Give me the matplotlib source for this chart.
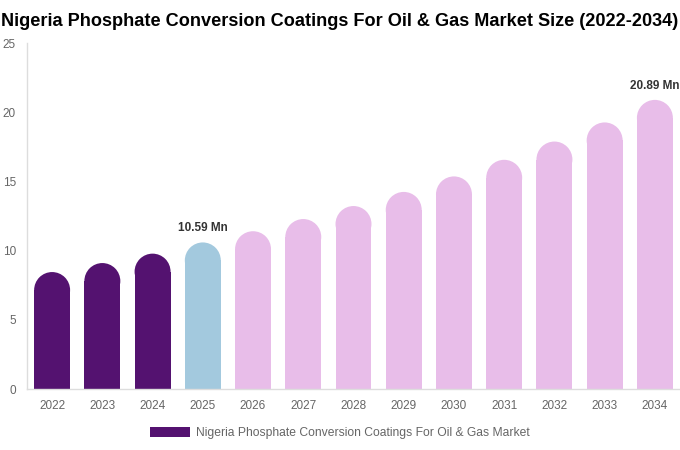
import matplotlib
matplotlib.use("Agg")
import matplotlib.pyplot as plt
from matplotlib.patches import Ellipse, Patch

years = ["2022", "2023", "2024", "2025", "2026", "2027", "2028",
         "2029", "2030", "2031", "2032", "2033", "2034"]
values = [8.45, 9.10, 9.78, 10.59, 11.40, 12.28, 13.22,
          14.24, 15.36, 16.56, 17.88, 19.26, 20.89]
phase = ["hist", "hist", "hist", "base", "fc", "fc", "fc",
         "fc", "fc", "fc", "fc", "fc", "fc"]
annotated = {"2025": "10.59 Mn", "2034": "20.89 Mn"}
title = "Nigeria Phosphate Conversion Coatings For Oil & Gas Market Size (2022-2034)"
legend_label = "Nigeria Phosphate Conversion Coatings For Oil & Gas Market"

colors = {"hist": "#541270", "base": "#a3c9de", "fc": "#e8bde9"}

plt.rcParams["font.family"] = ["Liberation Sans", "DejaVu Sans"]

fig = plt.figure(figsize=(6.8, 4.5), dpi=100)
ax = fig.add_axes([27 / 680, 1 - 389 / 450, 1 - 27 / 680, (389 - 43) / 450])
ax.set_xlim(-0.5, len(years) - 0.5)
ax.set_ylim(0, 25)

# pixel scales to get circular caps
p0 = ax.transData.transform((0, 0))
p1 = ax.transData.transform((1, 1))
px_x = p1[0] - p0[0]
px_y = p1[1] - p0[1]

width = 0.716
r_px = width * px_x / 2
ry = r_px / px_y

xs = list(range(len(years)))
for x, v, ph in zip(xs, values, phase):
    c = colors[ph]
    ax.bar(x, v - ry, width=width, color=c, linewidth=0)
    ax.add_patch(Ellipse((x, v - ry), width, 2 * ry, facecolor=c, linewidth=0))

for x, y, v in zip(xs, years, values):
    if y in annotated:
        ax.annotate(annotated[y], (x, v), xytext=(0, 6), textcoords="offset points",
                    ha="center", va="bottom", fontsize=8.5, fontweight="bold",
                    color="#333333")

ax.set_xticks(xs)
ax.set_xticklabels(years)
ax.set_yticks([0, 5, 10, 15, 20, 25])
ax.tick_params(axis="both", length=0, labelsize=8.5, labelcolor="#666666")
ax.tick_params(axis="x", pad=8)
ax.tick_params(axis="y", pad=8)
for s in ["top", "right"]:
    ax.spines[s].set_visible(False)
for s in ["left", "bottom"]:
    ax.spines[s].set_color("#dddddd")
    ax.spines[s].set_linewidth(1)

t = fig.text(0.5, 1 - 21 / 450, title, ha="center", va="center", fontsize=14,
             fontweight="bold", color="#000000")
renderer = fig.canvas.get_renderer()
w = t.get_window_extent(renderer).width
t.set_fontsize(14 * 678 / w)

handle = Patch(facecolor=colors["hist"], edgecolor="none")
fig.legend([handle], [legend_label], loc="center", bbox_to_anchor=(0.5, 1 - 433 / 450),
           frameon=False, fontsize=8.7, labelcolor="#666666",
           handlelength=3.3, handleheight=0.92, handletextpad=0.5)

fig.savefig("out.png", dpi=100)
